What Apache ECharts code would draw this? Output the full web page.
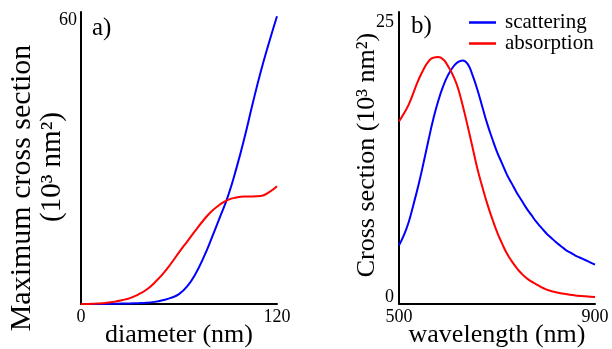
<!DOCTYPE html>
<html>
<head>
<meta charset="utf-8">
<script src="https://cdn.jsdelivr.net/npm/echarts@6/dist/echarts.min.js"></script>
<style>html,body{margin:0;padding:0;background:#fff}#c{width:612px;height:349px}</style>
</head>
<body>
<div id="c"></div>
<script>
// Panel a) : maximum cross section (10^3 nm^2) vs diameter (nm)
const diameters = [0,5,10,15,20,25,30,35,40,45,50,55,60,65,70,75,80,85,90,95,100,105,110,115,120];
const scatA = [0,0,0,0.02,0.05,0.08,0.12,0.18,0.25,0.45,0.8,1.3,2.1,3.7,6.3,9.8,13.9,18.3,22.8,28.5,35.0,42.2,49.0,55.1,60.8];
const absA  = [0,0.02,0.08,0.2,0.45,0.8,1.25,2.0,3.0,4.5,6.3,8.5,10.9,13.2,15.5,17.7,19.6,21.0,22.0,22.5,22.7,22.7,22.8,23.6,24.9];
// Panel b) : cross section (10^3 nm^2) vs wavelength (nm)
const wavelengths = [500,510,520,530,540,550,560,570,580,590,600,610,620,630,640,650,660,670,680,690,700,
                     710,720,730,740,750,760,770,780,790,800,810,820,830,840,850,860,870,880,890,900];
const scatB = [5.2,6.1,7.3,8.9,10.6,12.5,14.5,16.4,18.0,19.3,20.3,21.0,21.45,21.6,21.3,20.3,19.0,17.5,16.0,14.7,13.5,
               12.5,11.5,10.7,9.9,9.2,8.5,7.9,7.3,6.8,6.3,5.9,5.5,5.15,4.8,4.55,4.3,4.1,3.9,3.7,3.5];
const absB  = [16.2,16.9,17.7,18.8,19.9,20.8,21.5,21.85,21.9,21.7,21.1,20.3,19.2,17.6,15.8,13.9,12.0,10.4,8.9,7.6,6.4,
               5.4,4.5,3.8,3.2,2.7,2.3,2.0,1.75,1.5,1.3,1.15,1.05,0.96,0.88,0.82,0.76,0.72,0.68,0.65,0.62];
const xTicksA = [0,120];
const yTicksA = [60];
const xTicksB = [500,900];
const yTicksB = [0,25];

const FF = "'Liberation Serif','Times New Roman',serif";
const pair = (xs, ys) => xs.map((x,i)=>[x, ys[i]]);
const axisLine = {show:true, onZero:false, lineStyle:{color:'#000', width:2}};

const chart = echarts.init(document.getElementById('c'));
chart.setOption({
  animation:false,
  backgroundColor:'#fff',
  grid:[
    {left:81, top:12, width:196, height:292, outerBoundsMode:'none', containLabel:false},
    {left:399, top:12, width:196, height:292, outerBoundsMode:'none', containLabel:false}
  ],
  xAxis:[
    {gridIndex:0, type:'value', min:0, max:120, interval:120,
     axisLine, axisTick:{show:false}, splitLine:{show:false},
     axisLabel:{margin:4, fontSize:18, fontFamily:FF, color:'#000',
       formatter:v=>xTicksA.includes(v)?String(v):''},
     name:'diameter (nm)', nameLocation:'middle', nameGap:18, nameMoveOverlap:false,
     nameTextStyle:{fontSize:26, fontFamily:FF, color:'#000'}},
    {gridIndex:1, type:'value', min:500, max:900, interval:100,
     axisLine, axisTick:{show:false}, splitLine:{show:false},
     axisLabel:{margin:4, fontSize:18, fontFamily:FF, color:'#000',
       formatter:v=>xTicksB.includes(v)?String(v):''},
     name:'wavelength (nm)', nameLocation:'middle', nameGap:18, nameMoveOverlap:false,
     nameTextStyle:{fontSize:26, fontFamily:FF, color:'#000'}}
  ],
  yAxis:[
    {gridIndex:0, type:'value', min:0, max:61.7, interval:60,
     axisLine, axisTick:{show:false}, splitLine:{show:false},
     axisLabel:{margin:4, fontSize:18, fontFamily:FF, color:'#000', showMaxLabel:false,
       formatter:v=>yTicksA.includes(v)?String(v):''}},
    {gridIndex:1, type:'value', min:0, max:25.9, interval:25,
     axisLine, axisTick:{show:false}, splitLine:{show:false},
     axisLabel:{margin:5, fontSize:18, fontFamily:FF, color:'#000', showMaxLabel:false,
       formatter:v=>yTicksB.includes(v)?(v===0?'{z|0}':'{n|'+v+'}'):'',
       rich:{z:{fontSize:18, fontFamily:FF, color:'#000', padding:[0,0,14,0]},
             n:{fontSize:18, fontFamily:FF, color:'#000'}}}}
  ],
  legend:{
    left:469, top:12, orient:'vertical', padding:0, itemGap:0,
    itemWidth:27, itemHeight:2.5, icon:'rect',
    textStyle:{fontSize:21, fontFamily:FF, color:'#000', lineHeight:21, padding:[0,0,0,4]},
    data:['scattering','absorption']
  },
  series:[
    {name:'scattering', type:'line', xAxisIndex:0, yAxisIndex:0, data:pair(diameters, scatA),
     smooth:0.5, showSymbol:false, lineStyle:{color:'#0000ff', width:2}, itemStyle:{color:'#0000ff'}},
    {name:'absorption', type:'line', xAxisIndex:0, yAxisIndex:0, data:pair(diameters, absA),
     smooth:0.5, showSymbol:false, lineStyle:{color:'#ff0000', width:2}, itemStyle:{color:'#ff0000'}},
    {name:'scattering', type:'line', xAxisIndex:1, yAxisIndex:1, data:pair(wavelengths, scatB),
     smooth:0.5, showSymbol:false, lineStyle:{color:'#0000ff', width:2}, itemStyle:{color:'#0000ff'}},
    {name:'absorption', type:'line', xAxisIndex:1, yAxisIndex:1, data:pair(wavelengths, absB),
     smooth:0.5, showSymbol:false, lineStyle:{color:'#ff0000', width:2}, itemStyle:{color:'#ff0000'}}
  ],
  graphic:[
    {type:'text', x:92, y:28, style:{text:'a)', fontSize:25, fontFamily:FF, fill:'#000', textAlign:'left', textVerticalAlign:'middle'}},
    {type:'text', x:411, y:26, style:{text:'b)', fontSize:25, fontFamily:FF, fill:'#000', textAlign:'left', textVerticalAlign:'middle'}},
    {type:'text', x:22, y:188, rotation:Math.PI/2, style:{text:'Maximum cross section', fontSize:30, fontFamily:FF, fill:'#000', textAlign:'center', textVerticalAlign:'middle'}},
    {type:'text', x:52, y:167, rotation:Math.PI/2, style:{text:'(10³ nm²)', fontSize:29, fontFamily:FF, fill:'#000', textAlign:'center', textVerticalAlign:'middle'}},
    {type:'text', x:367, y:155, rotation:Math.PI/2, style:{text:'Cross section (10³ nm²)', fontSize:26, fontFamily:FF, fill:'#000', textAlign:'center', textVerticalAlign:'middle'}}
  ]
});
</script>
</body>
</html>
